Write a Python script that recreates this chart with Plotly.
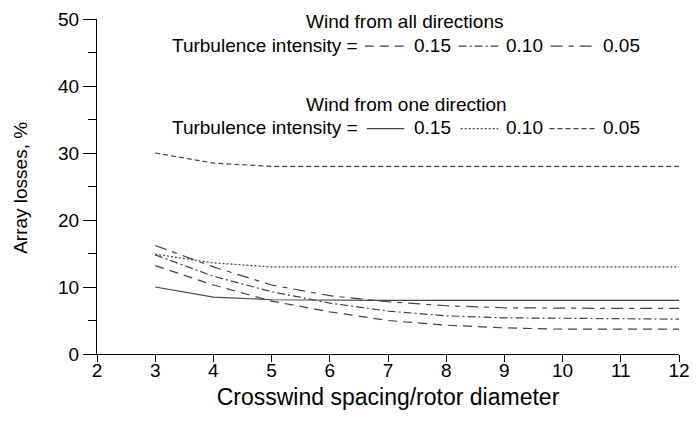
import plotly.graph_objects as go

spacing = [3, 4, 5, 6, 7, 8, 9, 10, 11, 12]

# Wind from one direction
one_015 = [10.0, 8.5, 8.1, 8.0, 8.0, 8.0, 8.0, 8.0, 8.0, 8.0]
one_010 = [14.9, 13.6, 13.0, 13.0, 13.0, 13.0, 13.0, 13.0, 13.0, 13.0]
one_005 = [30.0, 28.5, 28.0, 28.0, 28.0, 28.0, 28.0, 28.0, 28.0, 28.0]

# Wind from all directions
all_015 = [13.2, 10.3, 7.9, 6.3, 5.0, 4.3, 3.9, 3.7, 3.7, 3.7]
all_010 = [14.8, 11.6, 9.3, 7.6, 6.4, 5.7, 5.4, 5.3, 5.2, 5.2]
all_005 = [16.2, 13.0, 10.3, 8.7, 7.8, 7.2, 6.9, 6.8, 6.8, 6.8]

x_ticks = [2, 3, 4, 5, 6, 7, 8, 9, 10, 11, 12]
y_ticks = [0, 10, 20, 30, 40, 50]

LC = "#444444"
FONT = "Liberation Sans, Arial, Helvetica, sans-serif"

styles = {
    "one_015": "solid",
    "one_010": "2px,2px",
    "one_005": "5px,3px",
    "all_015": "9px,6px",
    "all_010": "8px,3px,2px,3px",
    "all_005": "12px,6px,5px,6px",
}

series = [
    ("one_015", one_015), ("one_010", one_010), ("one_005", one_005),
    ("all_015", all_015), ("all_010", all_010), ("all_005", all_005),
]

W, H = 699, 437
ML, MR, MT, MB = 97, 13, 9, 83

fig = go.Figure()
for name, vals in series:
    fig.add_trace(go.Scatter(x=spacing, y=vals, mode="lines", name=name,
                             line=dict(color=LC, width=1.2, dash=styles[name]),
                             showlegend=False, hoverinfo="skip"))

fig.update_layout(
    width=W, height=H,
    margin=dict(l=ML, r=MR, t=MT, b=MB),
    plot_bgcolor="white", paper_bgcolor="white",
    font=dict(family=FONT, size=19, color="black"),
    showlegend=False,
)
fig.update_xaxes(range=[2, 12], tickvals=x_ticks, ticks="outside", ticklen=7,
                 tickwidth=1.2, tickcolor="black", showline=True, linecolor="black",
                 linewidth=1.2, showgrid=False, zeroline=False,
                 ticklabelstandoff=-8, ticklabeloverflow="allow",
                 title=dict(text="Crosswind spacing/rotor diameter", standoff=8),
                 tickfont=dict(size=19))
fig.update_yaxes(range=[0, 50], tickvals=y_ticks, ticks="outside", ticklen=13,
                 tickwidth=1.2, tickcolor="black", showline=True, linecolor="black",
                 linewidth=1.2, showgrid=False, zeroline=False,
                 ticklabeloverflow="allow",
                 minor=dict(tickvals=[5, 15, 25, 35, 45], ticks="outside", ticklen=8,
                            tickwidth=1.2, tickcolor="black"),
                 tickfont=dict(size=19))

PW = W - ML - MR
PH = H - MT - MB

def px2paper_x(px):
    return (px - ML) / PW

def py2paper_y(py):
    return (H - MB - py) / PH

ann = []
def add_text(text, px, py, anchor="left", size=19, angle=0):
    ann.append(dict(text=text, x=px2paper_x(px), y=py2paper_y(py), xref="paper",
                    yref="paper", xanchor=anchor, yanchor="middle", showarrow=False,
                    textangle=angle, font=dict(size=size, family=FONT)))

add_text("Array losses, %", 20, 183, "center", size=19, angle=-90)

add_text("Wind from all directions", 408, 12, "center")
add_text("Turbulence intensity =", 171, 36)
add_text("0.15", 416, 36)
add_text("0.10", 509, 36)
add_text("0.05", 607, 36)
add_text("Wind from one direction", 410, 97, "center")
add_text("Turbulence intensity =", 171, 121)
add_text("0.15", 416, 121)
add_text("0.10", 509, 121)
add_text("0.05", 607, 121)

shapes = []
def add_sample(x0, x1, py, dash):
    shapes.append(dict(type="line", xref="paper", yref="paper",
                       x0=px2paper_x(x0), x1=px2paper_x(x1),
                       y0=py2paper_y(py), y1=py2paper_y(py),
                       line=dict(color=LC, width=1.2, dash=dash)))

add_sample(368, 411, 37, styles["all_015"])
add_sample(463, 503, 37, styles["all_010"])
add_sample(556, 602, 37, styles["all_005"])
add_sample(370, 408, 122, styles["one_015"])
add_sample(465, 503, 122, styles["one_010"])
add_sample(555, 603, 122, styles["one_005"])

fig.update_layout(annotations=ann, shapes=shapes)
fig.write_html("out.html", config={"displayModeBar": False},
               post_script="document.body.style.margin='0px';")
